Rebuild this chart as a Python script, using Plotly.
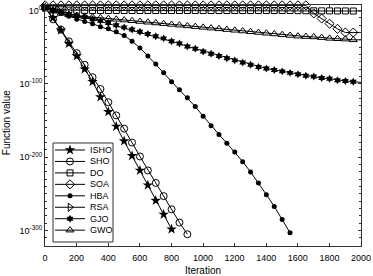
import plotly.graph_objects as go

# Iterations at which markers are drawn (every 50 iterations, starting at 1)
ITER = list(range(1, 2000, 50))   # 1, 51, ..., 1951
END_ITER = 2000

# log10 of the function value read at each marker
ISHO = [4, -10, -27, -45, -62, -80, -97, -118, -138, -158, -178, -198, -218, -238, -259, -278, -298]
SHO = [4, -12, -26, -42, -58, -74, -91, -107, -125, -143, -161, -180, -199, -218, -235, -253, -271, -289, -305]
DO = [4, 2, 1, 0.6, 0.3, 0.1, 0, 0, 0, 0, 0, 0, 0, 0, 0, 0, 0, 0, 0, 0,
      0, 0, 0, 0, 0, 0, 0, 0, 0, 0, 0, 0, -0.2, -0.3, -0.4, -0.5, -0.5, -0.6, -0.6, -0.7]
DO_END = -0.7
SOA = [7, 7, 7, 7, 7, 7, 7, 7, 7, 7, 7, 7, 7, 7, 7, 7, 7, 7, 7, 7,
       7, 7, 7, 7, 7, 7, 7, 7, 7, 7, 7, 7, 7, 7, -4, -11, -18, -25, -30, -30]
SOA_END = -30
HBA = [4, 0, -4, -8, -12, -15, -18, -22, -25, -29, -34, -42, -51, -62, -73, -85, -97, -108, -119, -131,
       -144, -157, -169, -181, -193, -206, -220, -235, -251, -267, -285, -303]
RSA = [4]
GJO = [4, 1, -2, -5, -7, -9, -12, -14, -17, -20, -23, -26, -29, -32, -35, -38, -42, -45, -49, -52,
       -56, -59, -62, -65, -68, -71, -74, -77, -79, -81, -83, -85, -87, -89, -90, -92, -93, -95, -96, -97]
GJO_END = -98
GWO = [4, -1, -4, -6, -7, -8, -9, -10, -11, -12, -13, -14, -15, -16, -17, -18, -19, -20, -21, -22,
       -23, -24, -25, -26, -27, -28, -29, -30, -31, -32, -33, -34, -35, -35.5, -36, -37, -38, -38.5, -39, -40]
GWO_END = -40

Y_TICKS = [-300, -200, -100, 0]
Y_TICK_TEXT = ["10<sup>-300</sup>", "10<sup>-200</sup>", "10<sup>-100</sup>", "10<sup>0</sup>"]
X_TICKS = [0, 200, 400, 600, 800, 1000, 1200, 1400, 1600, 1800, 2000]

series = [
    ("ISHO", ISHO, None, dict(symbol="star", size=8, color="black")),
    ("SHO", SHO, None, dict(symbol="circle-open", size=7, color="black", line=dict(width=1, color="black"))),
    ("DO", DO, DO_END, dict(symbol="square-open", size=6, color="black", line=dict(width=1, color="black"))),
    ("SOA", SOA, SOA_END, dict(symbol="diamond-open", size=7, color="black", line=dict(width=1, color="black"))),
    ("HBA", HBA, None, dict(symbol="circle", size=5, color="black")),
    ("RSA", RSA, None, dict(symbol="triangle-right-open", size=7, color="black", line=dict(width=1, color="black"))),
    ("GJO", GJO, GJO_END, dict(symbol="hexagram", size=6, color="black")),
    ("GWO", GWO, GWO_END, dict(symbol="triangle-up-open", size=7, color="black", line=dict(width=1, color="black"))),
]

FONT = "Liberation Sans, Arial, sans-serif"
PLOT_W, PLOT_H = 316, 241          # plot area size in px (legend overlay uses px units)

fig = go.Figure()
for name, vals, end, mk in series:
    xs = ITER[:len(vals)]
    ys = [10.0 ** v for v in vals]
    fig.add_trace(go.Scatter(x=xs, y=ys, name=name, mode="lines+markers",
                             line=dict(color="black", width=1), marker=mk,
                             cliponaxis=False, showlegend=False))
    if end is not None:
        fig.add_trace(go.Scatter(x=[xs[-1], END_ITER], y=[ys[-1], 10.0 ** end], mode="lines",
                                 line=dict(color="black", width=1), showlegend=False,
                                 hoverinfo="skip", cliponaxis=False))

# ---- compact legend box (MATLAB style), drawn on a hidden overlay axis in px units ----
LEG_LEFT, LEG_TOP, LEG_W, LEG_H = 8, 138, 60, 99
ROW0, ROW_STEP = 7, 11.45
LINE_X0, LINE_X1, TEXT_X = 2, 32, 35
fig.add_shape(type="rect", xref="x2", yref="y2",
              x0=LEG_LEFT, x1=LEG_LEFT + LEG_W, y0=LEG_TOP, y1=LEG_TOP + LEG_H,
              line=dict(color="#333333", width=1), fillcolor="white", layer="below")
for i, (name, vals, end, mk) in enumerate(series):
    yy = LEG_TOP + ROW0 + i * ROW_STEP
    fig.add_trace(go.Scatter(x=[LEG_LEFT + LINE_X0, LEG_LEFT + LINE_X1], y=[yy, yy], mode="lines",
                             xaxis="x2", yaxis="y2", line=dict(color="black", width=1),
                             showlegend=False, hoverinfo="skip"))
    fig.add_trace(go.Scatter(x=[LEG_LEFT + (LINE_X0 + LINE_X1) / 2], y=[yy], mode="markers",
                             xaxis="x2", yaxis="y2", marker=mk,
                             showlegend=False, hoverinfo="skip"))
    fig.add_annotation(x=LEG_LEFT + TEXT_X, y=yy, xref="x2", yref="y2", text=name,
                       showarrow=False, xanchor="left", yanchor="middle",
                       font=dict(family=FONT, size=9, color="black"))

# y-axis title placed like MATLAB's (further left than plotly would put it)
fig.add_annotation(x=-0.123, y=0.51, xref="paper", yref="paper", text="Function value",
                   textangle=-90, showarrow=False, xanchor="center", yanchor="middle",
                   font=dict(family=FONT, size=10, color="black"))

axis_font = dict(family=FONT, size=9, color="black")
fig.update_layout(
    width=373, height=276,
    margin=dict(l=45, r=12, t=5, b=30),
    paper_bgcolor="white", plot_bgcolor="white",
    font=axis_font,
    showlegend=False,
    xaxis=dict(range=[0, 2000], tickmode="array", tickvals=X_TICKS, automargin=False,
               ticks="inside", ticklen=3, tickcolor="#333333", ticklabelstandoff=3,
               showline=True, linecolor="#333333", linewidth=1, mirror="ticks",
               showgrid=False, zeroline=False,
               title=dict(text="Iteration", font=dict(size=10), standoff=5)),
    yaxis=dict(type="log", range=[-321, 7.5], tickmode="array", automargin=False,
               tickvals=[10.0 ** t for t in Y_TICKS], ticktext=Y_TICK_TEXT,
               ticks="inside", ticklen=3, tickcolor="#333333",
               minor=dict(tickmode="linear", tick0=0, dtick=10, ticks="inside", ticklen=2,
                          tickcolor="#333333", showgrid=False),
               showline=True, linecolor="#333333", linewidth=1, mirror="ticks",
               showgrid=False, zeroline=False),
    xaxis2=dict(overlaying="x", range=[0, PLOT_W], visible=False, fixedrange=True, automargin=False),
    yaxis2=dict(overlaying="y", range=[PLOT_H, 0], visible=False, fixedrange=True, automargin=False),
)

fig.write_html("out.html", config={"displayModeBar": False, "staticPlot": True},
               post_script="document.body.style.margin='0';document.body.style.overflow='hidden';")
